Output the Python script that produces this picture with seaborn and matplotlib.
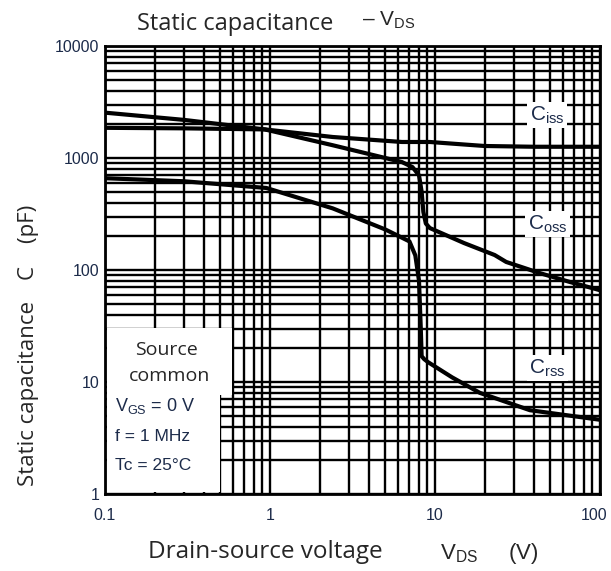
import matplotlib.pyplot as plt
import matplotlib.ticker as mticker
import matplotlib.transforms as mtransforms
from matplotlib.patches import Rectangle
import numpy as np
import pandas as pd
import seaborn as sns

# values (V, pF)
vds_ciss = [0.1, 0.3, 0.93, 2.4, 6.3, 9.3, 15, 20, 40, 100]
ciss = [1860, 1840, 1800, 1540, 1390, 1390, 1320, 1280, 1260, 1260]

vds_coss = [0.1, 0.3, 0.93, 2.4, 5, 6.3, 7.3, 8.0, 8.3, 8.5, 8.8, 9.3, 15, 23, 27, 43, 66, 100]
coss = [2540, 2190, 1800, 1300, 1000, 920, 830, 700, 500, 330, 260, 237, 174, 136, 118, 94, 78, 66]

vds_crss = [0.1, 0.3, 0.95, 2.4, 5, 7.0, 7.6, 8.0, 8.2, 8.3, 8.6, 9.1, 12.7, 18.7, 37.6, 100]
crss = [660, 620, 540, 355, 230, 180, 135, 80, 30, 17, 16, 15, 11, 8, 5.6, 4.6]

x_ticks = [0.1, 1, 10, 100]
y_ticks = [1, 10, 100, 1000, 10000]

df = pd.concat([
    pd.DataFrame({"vds": vds_ciss, "c": ciss, "curve": "Ciss"}),
    pd.DataFrame({"vds": vds_coss, "c": coss, "curve": "Coss"}),
    pd.DataFrame({"vds": vds_crss, "c": crss, "curve": "Crss"}),
])

sns.set_style("white")
plt.rcParams["font.family"] = ["Liberation Sans", "DejaVu Sans"]
plt.rcParams["mathtext.fontset"] = "custom"
plt.rcParams["mathtext.rm"] = "Liberation Sans"
plt.rcParams["mathtext.it"] = "Liberation Sans"

navy = "#1c2b4a"
seg = ["Open Sans", "DejaVu Sans"]

fig = plt.figure(figsize=(6.11, 5.71), dpi=100)
ax = fig.add_axes([105 / 611, 77 / 571, 495 / 611, 448 / 571])

sns.lineplot(data=df, x="vds", y="c", hue="curve", units="curve", estimator=None,
             sort=False, palette=["black"] * 3, linewidth=3, legend=False, ax=ax, zorder=4)

ax.set_xscale("log")
ax.set_yscale("log")
ax.set_xlim(0.1, 100)
ax.set_ylim(1, 10000)
ax.xaxis.set_major_locator(mticker.FixedLocator(x_ticks))
ax.yaxis.set_major_locator(mticker.FixedLocator(y_ticks))
ax.xaxis.set_minor_locator(mticker.LogLocator(base=10, subs=np.arange(2, 10), numticks=20))
ax.yaxis.set_minor_locator(mticker.LogLocator(base=10, subs=np.arange(2, 10), numticks=20))
ax.xaxis.set_major_formatter(mticker.FuncFormatter(lambda v, _: f"{v:g}"))
ax.yaxis.set_major_formatter(mticker.FuncFormatter(lambda v, _: f"{v:g}"))
ax.xaxis.set_minor_formatter(mticker.NullFormatter())
ax.yaxis.set_minor_formatter(mticker.NullFormatter())
ax.tick_params(which="both", length=0, labelsize=11.5, labelcolor=navy)
ax.tick_params(axis="x", pad=10)
ax.tick_params(axis="y", pad=4)
ax.set_axisbelow(True)
ax.grid(which="both", color="black", linewidth=1.7)
for s in ax.spines.values():
    s.set_linewidth(2)
    s.set_color("black")
ax.set_xlabel("")
ax.set_ylabel("")

# keep "100" inside the picture
last = ax.get_xticklabels()[-1]
last.set_transform(last.get_transform() + mtransforms.ScaledTranslation(-6 / 100, 0, fig.dpi_scale_trans))

# white box for the conditions
ax.add_patch(Rectangle((0.004, 0.221), 0.253, 0.15, transform=ax.transAxes,
                       facecolor="white", edgecolor="none", zorder=2))
ax.add_patch(Rectangle((0.004, 0.004), 0.228, 0.22, transform=ax.transAxes,
                       facecolor="white", edgecolor="none", zorder=2))
ax.text(0.125, 0.321, "Source", transform=ax.transAxes, ha="center", va="center",
        fontsize=14, family=seg, zorder=5)
ax.text(0.13, 0.263, "common", transform=ax.transAxes, ha="center", va="center",
        fontsize=14, family=seg, zorder=5)
ax.text(0.02, 0.196, r"V$_{\mathrm{GS}}$ = 0 V", transform=ax.transAxes, ha="left",
        va="center", fontsize=13, color=navy, zorder=5)
ax.text(0.02, 0.129, "f = 1 MHz", transform=ax.transAxes, ha="left", va="center",
        fontsize=12.5, color=navy, zorder=5)
ax.text(0.02, 0.0625, "Tc = 25°C", transform=ax.transAxes, ha="left", va="center",
        fontsize=12.5, color=navy, zorder=5)

# curve labels
for lbl, yv in [("iss", 2420), ("oss", 257), ("rss", 13.3)]:
    ax.text(48, yv, "C$_{\\mathrm{" + lbl + "}}$", ha="center", va="center",
            fontsize=15, color=navy, zorder=5,
            bbox=dict(facecolor="white", edgecolor="none", pad=2))

# titles and axis labels
fig.text(0.385, 0.958, "Static capacitance", ha="center", va="center",
         fontsize=17, family=seg)
fig.text(0.592, 0.965, r"– V$_{\mathrm{DS}}$", ha="left", va="center", fontsize=15)
fig.text(0.435, 0.033, "Drain-source voltage", ha="center", va="center",
         fontsize=17.5, family=seg)
fig.text(0.72, 0.03, r"V$_{\mathrm{DS}}$     (V)", ha="left", va="center", fontsize=16)
fig.text(0.046, 0.31, "Static capacitance", rotation=90, ha="center", va="center",
         fontsize=16, family=seg)
fig.text(0.046, 0.575, "C    (pF)", rotation=90, ha="center", va="center",
         fontsize=16, family=seg)

fig.savefig("out.png", dpi=100)
